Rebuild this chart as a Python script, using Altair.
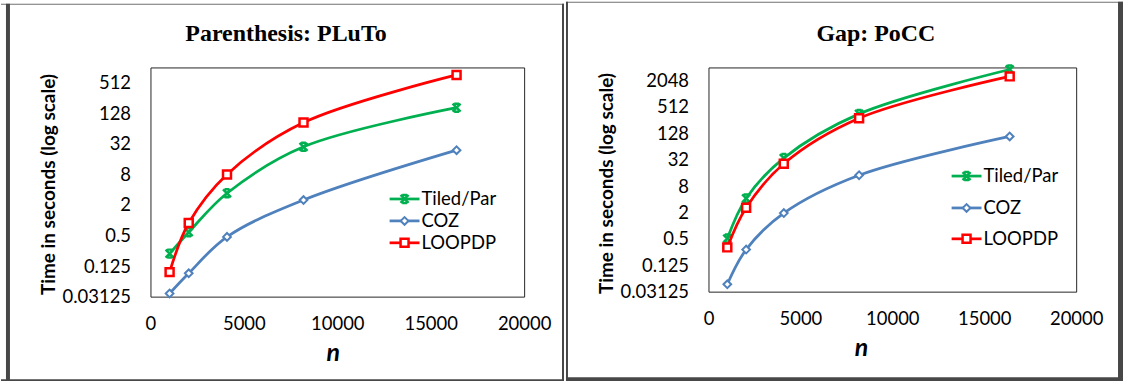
import altair as alt
import pandas as pd

# Problem sizes (n) shared by both benchmarks
n_values = [1024, 2048, 4096, 8192, 16384]

series_names = ["Tiled/Par", "COZ", "LOOPDP"]
series_colors = ["#00B050", "#4F81BD", "#FF0000"]

# Running times in seconds, Parenthesis problem (PLuTo)
pluto_tiled = [0.22, 0.58, 3.4, 28, 165]
pluto_coz = [0.036, 0.09, 0.47, 2.5, 24]
pluto_loopdp = [0.095, 0.88, 8.0, 84, 730]

# Running times in seconds, Gap problem (PoCC)
pocc_tiled = [0.51, 4.2, 35, 357, 3680]
pocc_coz = [0.046, 0.285, 1.94, 14.2, 109]
pocc_loopdp = [0.32, 2.56, 26, 284, 2560]

x_ticks = [0, 5000, 10000, 15000, 20000]
y_ticks_pluto = [0.03125, 0.125, 0.5, 2, 8, 32, 128, 512]
y_ticks_pocc = [0.03125, 0.125, 0.5, 2, 8, 32, 128, 512, 2048]

X_SHAPE = "M-1,-1L1,1M1,-1L-1,1M-0.6,-1H0.6M-0.6,1H0.6"
marker_styles = {
    "Tiled/Par": dict(shape=X_SHAPE, size=64, strokeWidth=2.5, fill="transparent"),
    "COZ": dict(shape="diamond", size=60, strokeWidth=2, fill="white"),
    "LOOPDP": dict(shape="square", size=64, strokeWidth=2.5, fill="white"),
}

FRAME = "#474747"
TOPLINE = "#707070"
LABEL_FONT = "Lato"


def panel(title, series_values, y_domain, y_ticks, width, height, g):
    rows = []
    for name, vals in zip(series_names, series_values):
        for n, t in zip(n_values, vals):
            rows.append({"series": name, "n": n, "time": t})
    df = pd.DataFrame(rows)

    x_enc = alt.X(
        "n:Q",
        scale=alt.Scale(domain=[0, 20000], nice=False, zero=False),
        axis=alt.Axis(
            values=x_ticks, format="d", title="n", grid=False, ticks=False,
            domain=False, labelFont=LABEL_FONT, labelFontSize=18.5,
            labelColor="black", labelPadding=18, labelFlush=False,
            labelOverlap=False,
            titleFont=LABEL_FONT, titleFontSize=25, titleFontWeight="bold",
            titleFontStyle="italic", titleColor="black",
            titleX=g["nx"], titleY=g["ny"], titleAlign="center",
            titleBaseline="alphabetic",
        ),
    )
    y_enc = alt.Y(
        "time:Q",
        scale=alt.Scale(type="log", base=2, domain=y_domain, nice=False),
        axis=alt.Axis(
            values=y_ticks, format="~g", title="Time in seconds (log scale)",
            grid=False, ticks=False, tickSize=0, domain=False,
            labelFont=LABEL_FONT, labelFontSize=18.5, labelColor="black",
            labelPadding=g["ylp"], labelOverlap=False, labelFlush=False,
            titleFont=LABEL_FONT, titleFontSize=19, titleFontWeight="bold",
            titleColor="black", titleAngle=270, titleX=g["tx"], titleY=g["ty"],
            titleAlign="center", titleBaseline="alphabetic",
        ),
    )

    layers = []

    # panel frame strips (outer gray border pieces)
    for (x0, x1, y0, y1, col) in g["strips"]:
        layers.append(
            alt.Chart(alt.Data(values=[{"k": 0}])).mark_rect(color=col, strokeWidth=0).encode(
                x=alt.value(x0), x2=alt.value(x1), y=alt.value(y0), y2=alt.value(y1)
            )
        )

    # data series: smoothed line with markers
    for name, color in zip(series_names, series_colors):
        sdf = df[df.series == name]
        st = marker_styles[name]
        line = alt.Chart(sdf).mark_line(
            interpolate="catmull-rom", strokeWidth=2.75, strokeJoin="round",
            strokeCap="round", color=color,
        ).encode(x=x_enc, y=y_enc)
        pts = alt.Chart(sdf).mark_point(
            shape=st["shape"], size=st["size"], strokeWidth=st["strokeWidth"],
            opacity=1, filled=True,
        ).encode(x=x_enc, y=y_enc, fill=alt.value(st["fill"]), stroke=alt.value(color))
        layers += [line, pts]

    # legend entries
    lx0, lx1, ltx = g["legend_x"]
    for name, color, ly in zip(series_names, series_colors, g["legend_y"]):
        st = marker_styles[name]
        src = alt.Data(values=[{"series": name}])
        layers.append(
            alt.Chart(src).mark_rule(strokeWidth=2.75, color=color).encode(
                x=alt.value(lx0), x2=alt.value(lx1), y=alt.value(ly)
            )
        )
        layers.append(
            alt.Chart(src).mark_point(
                shape=st["shape"], size=st["size"], strokeWidth=st["strokeWidth"],
                opacity=1, filled=True,
            ).encode(
                x=alt.value((lx0 + lx1) / 2), y=alt.value(ly),
                fill=alt.value(st["fill"]), stroke=alt.value(color),
            )
        )
        layers.append(
            alt.Chart(src).mark_text(
                font=LABEL_FONT, fontSize=18.5, color="black", align="left",
                baseline="middle",
            ).encode(x=alt.value(ltx), y=alt.value(ly), text=alt.Text("series:N"))
        )

    # panel heading
    layers.append(
        alt.Chart(alt.Data(values=[{"label": title}])).mark_text(
            font="Liberation Serif", fontSize=24, fontWeight="bold", color="black",
            align="center", baseline="alphabetic",
        ).encode(x=alt.value(g["title_x"]), y=alt.value(g["title_y"]), text=alt.Text("label:N"))
    )

    return alt.layer(*layers).properties(width=width, height=height)


left = panel(
    "Parenthesis: PLuTo",
    [pluto_tiled, pluto_coz, pluto_loopdp],
    [0.03125, 1024], y_ticks_pluto, 375, 230,
    dict(
        nx=183, ny=64, tx=-96, ty=117, ylp=20,
        title_x=136, title_y=-27,
        legend_x=(240, 270, 272),
        legend_y=(132, 154, 176),
        strips=[
            (-150, 415, -64, -63, TOPLINE),
            (-150, 415, 313, 317, FRAME),
            (-145, -141, -64, 317, FRAME),
            (413, 415, -64, 317, FRAME),
        ],
    ),
)

right = panel(
    "Gap: PoCC",
    [pocc_tiled, pocc_coz, pocc_loopdp],
    [0.03125, 4096], y_ticks_pocc, 369, 225,
    dict(
        nx=153, ny=64, tx=-96, ty=116, ylp=20,
        title_x=168, title_y=-27,
        legend_x=(244, 274, 276),
        legend_y=(109, 141, 172),
        strips=[
            (-143, 416, -66, -65, TOPLINE),
            (-143, 416, 311, 315, FRAME),
            (-143, -141, -66, 315, FRAME),
            (411, 416, -66, 315, FRAME),
        ],
    ),
)

chart = (
    alt.hconcat(left, right, spacing=0)
    .properties(padding=0, background="white")
    .configure_view(stroke="#262626", strokeWidth=1)
)

chart.save("out.html", embed_options={"renderer": "svg", "actions": False})
